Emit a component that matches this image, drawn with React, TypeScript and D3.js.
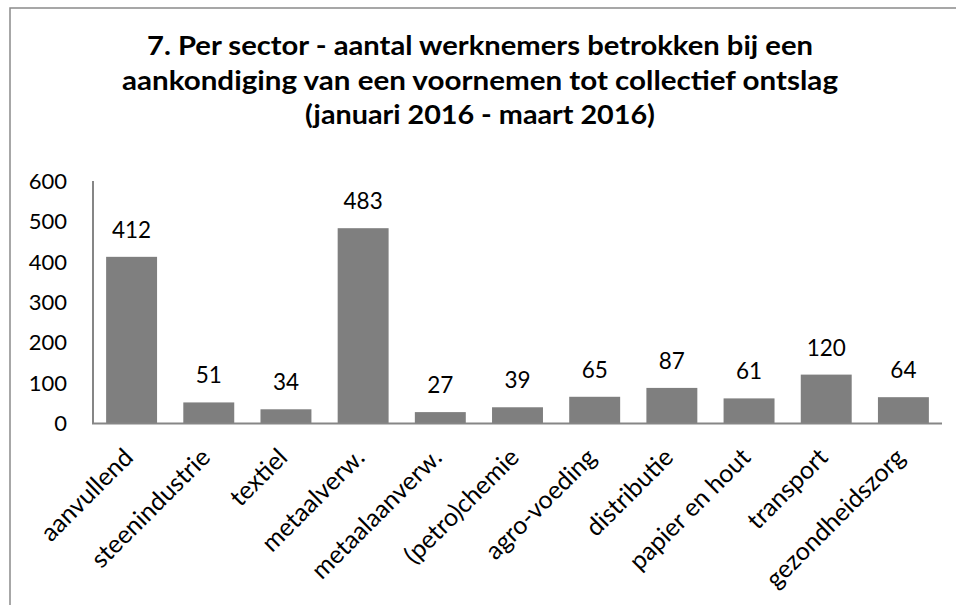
import React from "react";
import * as d3 from "d3";

const categories = [
  "aanvullend",
  "steenindustrie",
  "textiel",
  "metaalverw.",
  "metaalaanverw.",
  "(petro)chemie",
  "agro-voeding",
  "distributie",
  "papier en hout",
  "transport",
  "gezondheidszorg",
];
const values = [412, 51, 34, 483, 27, 39, 65, 87, 61, 120, 64];
const yTicks = [0, 100, 200, 300, 400, 500, 600];
const titleLines = [
  "7. Per sector - aantal werknemers betrokken bij een",
  "aankondiging van een voornemen tot collectief ontslag",
  "(januari 2016 - maart 2016)",
];

const W = 956;
const H = 605;
const FONT = "Lato, 'Open Sans', sans-serif";

export default function App() {
  const x = d3
    .scaleBand<string>()
    .domain(categories)
    .range([93, 942])
    .paddingInner(0.34)
    .paddingOuter(0.17);
  const y = d3.scaleLinear().domain([0, 600]).range([423, 181]);

  const titleY = [55, 89.5, 124];
  const titleW = [666, 716, 350];

  return (
    <svg
      width={W}
      height={H}
      style={{ position: "absolute", left: 0, top: 0, background: "#fff" }}
      fontFamily={FONT}
    >
      <rect x={0} y={0} width={W} height={H} fill="#fff" />
      <rect x={10} y={8} width={W + 20} height={H + 20} fill="none" stroke="#8a8a8a" strokeWidth={1.5} />
      {titleLines.map((t, i) => (
        <text
          key={i}
          x={480}
          y={titleY[i]}
          textAnchor="middle"
          fontSize={27}
          fontWeight="bold"
          fill="#000"
          textLength={titleW[i]}
          lengthAdjust="spacingAndGlyphs"
        >
          {t}
        </text>
      ))}
      {yTicks.map((t) => (
        <text key={t} x={67} y={y(t)} dy="0.36em" textAnchor="end" fontSize={22} fill="#000">
          {t}
        </text>
      ))}
      {categories.map((c, i) => (
        <g key={c}>
          <rect
            x={x(c)!}
            y={y(values[i])}
            width={x.bandwidth()}
            height={y(0) - y(values[i])}
            fill="#7f7f7f"
          />
          <text
            x={x(c)! + x.bandwidth() / 2}
            y={y(values[i]) - 19}
            textAnchor="middle"
            fontSize={22.5}
            fill="#000"
          >
            {values[i]}
          </text>
          <text
            transform={`translate(${x(c)! + x.bandwidth() / 2 + 3},${459}) rotate(-45)`}
            textAnchor="end"
            fontSize={25}
            fill="#000"
          >
            {c}
          </text>
        </g>
      ))}
      <line x1={93} x2={93} y1={181} y2={424} stroke="#868686" strokeWidth={2} />
      <line x1={92} x2={942} y1={423.5} y2={423.5} stroke="#868686" strokeWidth={2} />
    </svg>
  );
}
